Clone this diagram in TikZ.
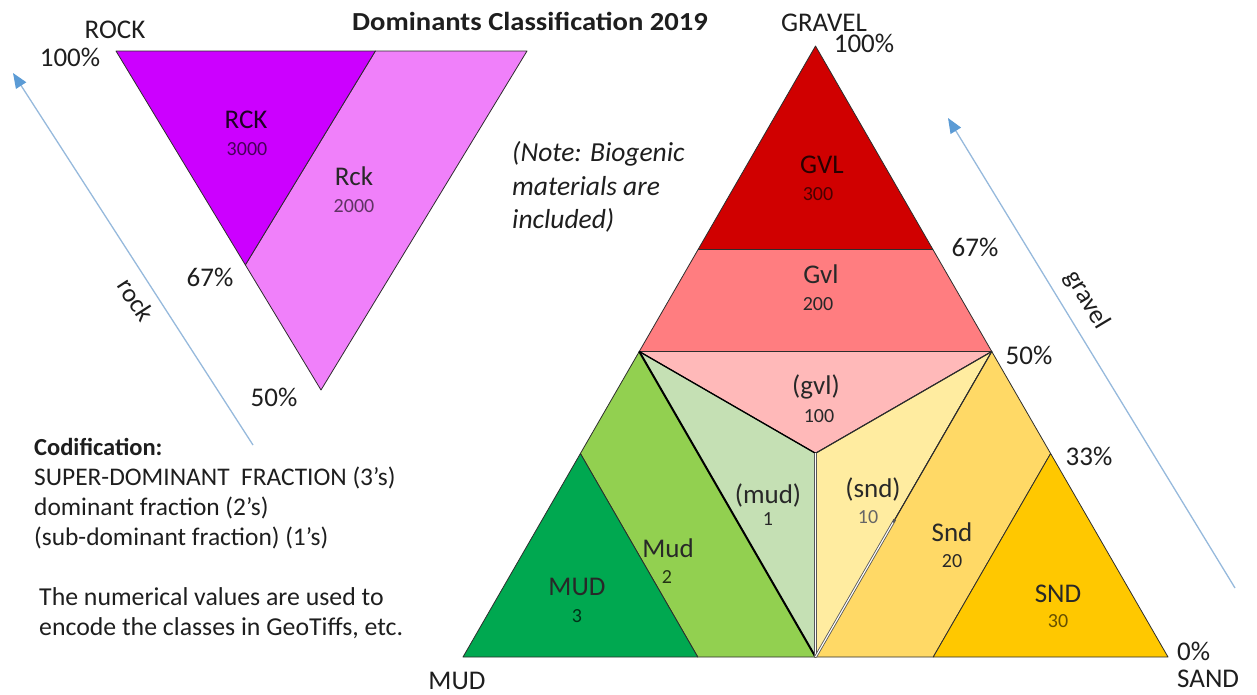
\documentclass[tikz,border=0pt]{standalone}
\usepackage{fontspec}
\setmainfont{Carlito}
\usetikzlibrary{arrows.meta,calc}
\definecolor{cRCK}{RGB}{204,0,255}
\definecolor{cRck}{RGB}{240,128,250}
\definecolor{cGVL}{RGB}{208,0,0}
\definecolor{cGvl}{RGB}{255,125,128}
\definecolor{cgvl}{RGB}{255,185,185}
\definecolor{cMUD}{RGB}{0,168,80}
\definecolor{cMud}{RGB}{146,208,80}
\definecolor{cmud}{RGB}{197,224,180}
\definecolor{csnd}{RGB}{255,236,160}
\definecolor{cSnd}{RGB}{255,217,102}
\definecolor{cSND}{RGB}{255,200,0}
\definecolor{edgec}{RGB}{45,45,45}
\definecolor{txtc}{RGB}{30,30,30}
\definecolor{labc}{RGB}{40,40,40}
\definecolor{arrowc}{RGB}{150,185,220}
\definecolor{arrowhead}{RGB}{91,155,213}
\tikzset{
  region/.style={draw=edgec, line width=0.8pt, line join=round},
  lab/.style={anchor=base, font=\fontsize{27}{32}\selectfont, text=labc, inner sep=0pt},
  num/.style={anchor=base, font=\fontsize{20}{24}\selectfont, text=labc, inner sep=0pt},
  corner/.style={anchor=base, font=\fontsize{27}{32}\selectfont, text=txtc, inner sep=0pt},
  body/.style={anchor=base west, font=\fontsize{25.4}{30}\selectfont, text=txtc, inner sep=0pt},
  notestyle/.style={anchor=base west, font=\fontsize{27.5}{33}\selectfont\itshape, text=txtc, inner sep=0pt},
  axisarrow/.style={draw=arrowc, line width=1.3pt, -{Triangle[length=15pt,width=12pt,color=arrowhead]}},
  axislab/.style={font=\fontsize{26}{30}\selectfont, text=txtc, inner sep=0pt},
}
\begin{document}
\begin{tikzpicture}[x=1pt,y=-1pt]
\useasboundingbox (0,0) rectangle (1257,694);
% ---------- rock triangle
\coordinate (R1) at (116,51);
\coordinate (R2) at (527,51);
\coordinate (R3) at (321,390);
\coordinate (r1) at ($(R1)!0.631!(R2)$);
\coordinate (r2) at ($(R1)!0.631!(R3)$);
\fill[cRck,region] (r1) -- (R2) -- (R3) -- (r2) -- cycle;
\fill[cRCK,region] (R1) -- (r1) -- (r2) -- cycle;
% ---------- big triangle
\coordinate (A) at (463,657);
\coordinate (B) at (1168,657);
\coordinate (C) at (815.5,46);
\coordinate (gL67) at ($(A)!0.667!(C)$);
\coordinate (gR67) at ($(B)!0.667!(C)$);
\coordinate (gL50) at ($(A)!0.5!(C)$);
\coordinate (gR50) at ($(B)!0.5!(C)$);
\coordinate (lL33) at ($(A)!0.333!(C)$);
\coordinate (rR33) at ($(B)!0.333!(C)$);
\coordinate (bM) at ($(A)!0.5!(B)$);
\coordinate (b13) at ($(A)!0.333!(B)$);
\coordinate (b23) at ($(A)!0.667!(B)$);
\coordinate (G) at (815.5,453.3);
\fill[cGVL,region] (C) -- (gR67) -- (gL67) -- cycle;
\fill[cGvl,region] (gL67) -- (gR67) -- (gR50) -- (gL50) -- cycle;
\fill[cgvl,region] (gL50) -- (gR50) -- (G) -- cycle;
\fill[cmud,region] (gL50) -- (G) -- (bM) -- cycle;
\fill[csnd,region] (gR50) -- (bM) -- (G) -- cycle;
\fill[cMud,region] (lL33) -- (gL50) -- (bM) -- (b13) -- cycle;
\fill[cMUD,region] (A) -- (b13) -- (lL33) -- cycle;
\fill[cSnd,region] (rR33) -- (gR50) -- (bM) -- (b23) -- cycle;
\fill[cSND,region] (B) -- (b23) -- (rR33) -- cycle;
% special boundary lines
\draw[black, line width=2pt] (gL50) -- (bM);
\draw[black, line width=1.3pt] (gL50) -- (G);
\draw[edgec, line width=1.1pt] (gR50) -- (G);
\draw[edgec!80, line width=3.4pt] (G) -- (bM);
\draw[white, line width=1.5pt] (G) -- (bM);
\draw[edgec, line width=1pt] (gR50) -- (bM);
\draw[edgec!80, line width=2.8pt] ($(gR50)!0.55!(bM)$) -- (bM);
\draw[white, line width=1.1pt] ($(gR50)!0.56!(bM)$) -- (bM);
% ---------- arrows
\coordinate (rockS) at (253,445);
\coordinate (rockE) at (13,73);
\coordinate (gravS) at (1235,588);
\coordinate (gravE) at (948,118);
\draw[axisarrow] (rockS) -- (rockE);
\draw[axisarrow] (gravS) -- (gravE);
\node[axislab, rotate=-57] (rocklab) at (136,300) {rock};
\node[axislab, rotate=-59] (gravlab) at (1087,300) {gravel};
% ---------- corner and percentage labels
\node[corner] (ROCK) at (115,38) {ROCK};
\node[corner] (p100r) at (70,66) {100\%};
\node[corner] (p67l) at (210,286) {67\%};
\node[corner] (p50l) at (274,406) {50\%};
\node[corner] (GRAVEL) at (824,31) {GRAVEL};
\node[corner] (p100g) at (864,52) {100\%};
\node[corner] (p67r) at (975,256) {67\%};
\node[corner] (p50r) at (1029,364) {50\%};
\node[corner] (p33) at (1089,465) {33\%};
\node[corner, anchor=base west] (p0) at (1177,660) {0\%};
\node[corner, anchor=base west] (SAND) at (1177,687) {SAND};
\node[corner] (MUDc) at (457,689) {MUD};
% ---------- region labels
\node[lab, text=black!85!cRCK] (tRCK) at (246,128) {RCK};
\node[num, text=black!65!cRCK] (n3000) at (247,155) {3000};
\node[lab] (tRck) at (354,185) {Rck};
\node[num, text=black!60!cRck] (n2000) at (354,212) {2000};
\node[lab, text=black!80!cGVL] (tGVL) at (822,173) {GVL};
\node[num, text=black!65!cGVL] (n300) at (818,200) {300};
\node[lab] (tGvl) at (821,283) {Gvl};
\node[num] (n200) at (818,310) {200};
\node[lab] (tgvl) at (816,394) {(gvl)};
\node[num] (n100) at (819,422) {100};
\node[lab] (tmud) at (768,503) {(mud)};
\node[num] (n1) at (768,525) {1};
\node[lab] (tMud) at (668,557) {Mud};
\node[num, text=black!75!cMud] (n2) at (667,583) {2};
\node[lab] (tMUD) at (577,595) {MUD};
\node[num, text=black!70!cMUD] (n3) at (577,622) {3};
\node[lab] (tsnd) at (873,497) {(snd)};
\node[num, text=black!60] (n10) at (868,523) {10};
\node[lab] (tSnd) at (952,541) {Snd};
\node[num] (n20) at (952,567) {20};
\node[lab] (tSND) at (1058,602) {SND};
\node[num, text=black!60!cSND] (n30) at (1058,627) {30};
% ---------- texts
\node[anchor=base, font=\fontsize{26}{30}\selectfont\bfseries, text=txtc, inner sep=0pt, xscale=1.1] (title) at (530,30) {Dominants Classification 2019};
\node[notestyle] (note1) at (512,161) {(Note: Biogenic};
\node[notestyle] (note2) at (512,195) {materials are};
\node[notestyle] (note3) at (512,228) {included)};
\node[body, font=\fontsize{24.5}{30}\selectfont\bfseries] (cod0) at (34,455) {Codification:};
\node[body] (cod1) at (34,485) {SUPER-DOMINANT\ \ FRACTION (3’s)};
\node[body] (cod2) at (34,515) {dominant fraction (2’s)};
\node[body] (cod3) at (34,545) {(sub-dominant fraction) (1’s)};
\node[body, font=\fontsize{25.8}{30}\selectfont] (enc1) at (39,605) {The numerical values are used to};
\node[body, font=\fontsize{25.8}{30}\selectfont] (enc2) at (39,635) {encode the classes in GeoTiffs, etc.};
\end{tikzpicture}
\end{document}
